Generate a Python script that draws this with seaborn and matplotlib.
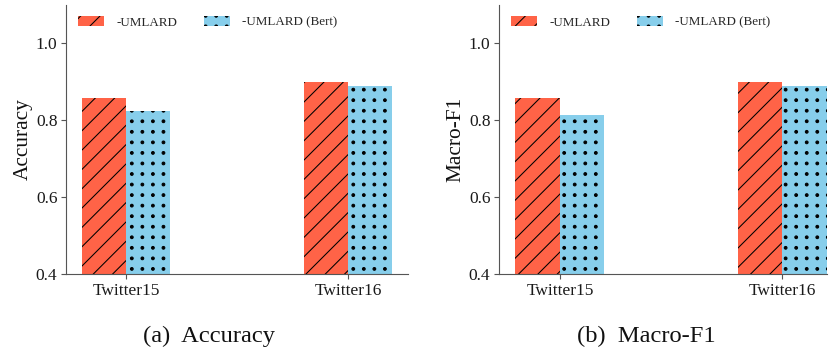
import numpy as np
import pandas as pd
import matplotlib
matplotlib.use("Agg")
import matplotlib.pyplot as plt
import matplotlib.hatch as mhatch
from matplotlib.path import Path
import seaborn as sns

# ---- data -------------------------------------------------------------
datasets = ["Twitter15", "Twitter16"]
models = ["-UMLARD", "-UMLARD (Bert)"]
accuracy_umlard = [0.857, 0.900]
accuracy_bert = [0.825, 0.890]
macro_f1_umlard = [0.857, 0.900]
macro_f1_bert = [0.815, 0.890]
y_ticks = [0.4, 0.6, 0.8, 1.0]
captions = ["(a)  Accuracy", "(b)  Macro-F1"]
y_labels = ["Accuracy", "Macro-F1"]

colors = ["#FF6347", "#87CEEB"]
hatches = ["//", "."]


# Dots on a straight square grid (matplotlib's '.' staggers its rows).
class AlignedDots(mhatch.HatchPatternBase):
    filled = True
    size = 0.13

    def __init__(self, hatch, density):
        self.num_rows = int(hatch.count(".") * density * 11 / 6)
        circle = Path.unit_circle()
        self.shape_vertices = circle.vertices
        self.shape_codes = circle.codes
        self.num_vertices = self.num_rows ** 2 * len(circle.vertices)

    def set_vertices_and_codes(self, vertices, codes):
        step = 1.0 / self.num_rows
        shape = self.shape_vertices * step * self.size
        n = len(shape)
        centres = (np.arange(self.num_rows) + 0.5) * step
        k = 0
        for cy in centres:
            for cx in centres:
                vertices[k:k + n] = shape + (cx, cy)
                codes[k:k + n] = self.shape_codes
                k += n


_idx = mhatch._hatch_types.index(mhatch.SmallFilledCircles)
mhatch._hatch_types[_idx] = AlignedDots

sns.set_theme(style="ticks")
plt.rcParams["font.family"] = ["Liberation Serif", "DejaVu Serif"]
plt.rcParams["hatch.linewidth"] = 0.65
plt.rcParams["hatch.color"] = "black"


def make_frame(first, second):
    return pd.DataFrame({
        "dataset": datasets * 2,
        "model": [models[0]] * len(datasets) + [models[1]] * len(datasets),
        "value": list(first) + list(second),
    })


frames = [make_frame(accuracy_umlard, accuracy_bert),
          make_frame(macro_f1_umlard, macro_f1_bert)]

DPI = 116
fig = plt.figure(figsize=(834 / DPI, 356 / DPI), dpi=DPI)
axes_rects = [
    [66 / 834, 82 / 356, 342 / 834, 269 / 356],
    [499 / 834, 82 / 356, 328 / 834, 269 / 356],
]
x_limits = [(-0.27, 1.27), (-0.274, 1.2)]
caption_x = [209 / 834, 646 / 834]

spine_color = "#555555"

for i, df in enumerate(frames):
    ax = fig.add_axes(axes_rects[i])
    sns.barplot(data=df, x="dataset", y="value", hue="model",
                order=datasets, hue_order=models, palette=colors,
                saturation=1, width=0.4, ax=ax, legend=False,
                edgecolor="black", linewidth=0)
    for container, h in zip(ax.containers, hatches):
        for bar in container:
            bar.set_hatch(h)

    ax.set_ylim(0.4, 1.1)
    ax.set_xlim(*x_limits[i])
    ax.set_yticks(y_ticks)
    ax.set_yticklabels([f"{t:.1f}" for t in y_ticks])
    ax.set_xlabel("")
    ax.set_ylabel(y_labels[i], fontsize=13.3, labelpad=2, color="#111111")
    ax.tick_params(axis="both", labelsize=10.8, length=2.8, width=0.7,
                   color=spine_color, pad=2.5, labelcolor="#1a1a1a")
    sns.despine(ax=ax)
    for side in ("left", "bottom"):
        ax.spines[side].set_color(spine_color)
        ax.spines[side].set_linewidth(0.7)

    width_px = axes_rects[i][2] * 834
    ax.legend(ax.containers, models, loc="center left",
              bbox_to_anchor=(12 / width_px, 1 - 17.5 / 269),
              ncol=2, frameon=False, fontsize=8.1, borderpad=0,
              borderaxespad=0, handlelength=2.0, handleheight=0.77,
              handletextpad=0.92, columnspacing=2.1)

    fig.text(caption_x[i], 14 / 356, captions[i], ha="center",
             va="baseline", fontsize=15.2, color="#111111")

fig.savefig("out.png", dpi=DPI)
